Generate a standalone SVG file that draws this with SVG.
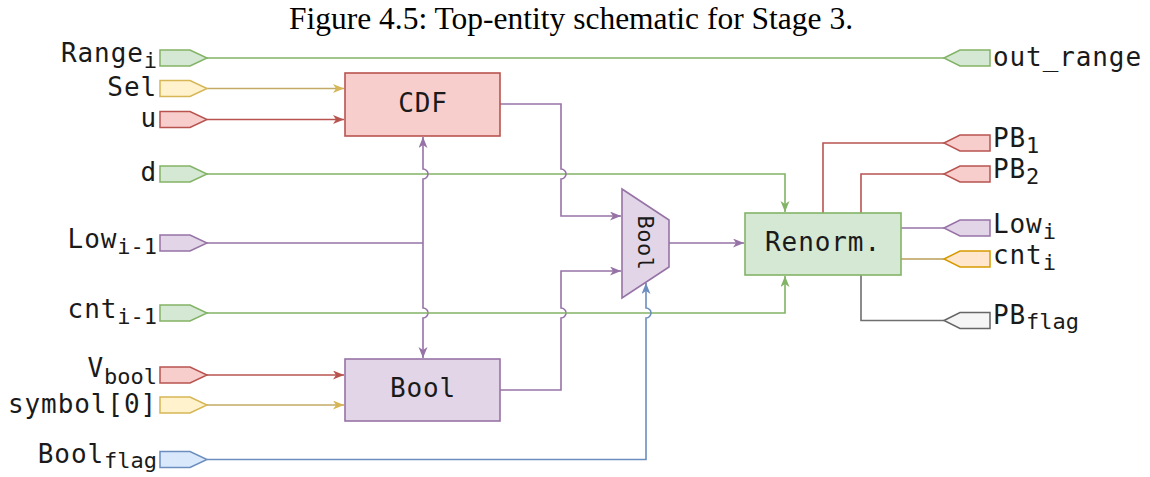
<svg xmlns="http://www.w3.org/2000/svg" width="1150" height="477" viewBox="0 0 1150 477">
  <style>
    .lbl{font-family:"DejaVu Sans Mono",monospace;font-size:26px;letter-spacing:0.9px;fill:#1a1a1a}
    .sub{font-size:22px;letter-spacing:0}
    .title{font-family:"Liberation Serif","Times New Roman",serif;font-size:31.5px;fill:#000}
    .w{fill:none;stroke-width:1.6}
    .g{stroke:#82b366}.gf{fill:#d5e8d4;stroke:#82b366}
    .y{stroke:#c2aa66}.yf{fill:#fff2cc;stroke:#d6b656}
    .r{stroke:#b85450}.rf{fill:#f8cecc;stroke:#b85450}
    .p{stroke:#9673a6}.pf{fill:#e1d5e7;stroke:#9673a6}
    .b{stroke:#6c8ebf}.bf{fill:#dae8fc;stroke:#6c8ebf}
    .o{stroke:#b99c5a}.of{fill:#ffe6cc;stroke:#d79b00}
    .k{stroke:#6f6f6f}.kf{fill:#f5f5f5;stroke:#666666}
    .port{stroke-width:1.5}
    .box{stroke-width:1.6}
  </style>
  <defs>
    <marker id="aY" markerUnits="userSpaceOnUse" markerWidth="12" markerHeight="10" refX="11" refY="4.5" orient="auto"><path d="M0,0 L11,4.5 L0,9 L3,4.5 Z" fill="#d6b656"/></marker>
    <marker id="aR" markerUnits="userSpaceOnUse" markerWidth="12" markerHeight="10" refX="11" refY="4.5" orient="auto"><path d="M0,0 L11,4.5 L0,9 L3,4.5 Z" fill="#b85450"/></marker>
    <marker id="aP" markerUnits="userSpaceOnUse" markerWidth="12" markerHeight="10" refX="11" refY="4.5" orient="auto-start-reverse"><path d="M0,0 L11,4.5 L0,9 L3,4.5 Z" fill="#9673a6"/></marker>
    <marker id="aG" markerUnits="userSpaceOnUse" markerWidth="12" markerHeight="10" refX="11" refY="4.5" orient="auto"><path d="M0,0 L11,4.5 L0,9 L3,4.5 Z" fill="#82b366"/></marker>
    <marker id="aB" markerUnits="userSpaceOnUse" markerWidth="12" markerHeight="10" refX="11" refY="4.5" orient="auto"><path d="M0,0 L11,4.5 L0,9 L3,4.5 Z" fill="#6c8ebf"/></marker>
  </defs>

  <rect width="1150" height="477" fill="#ffffff"/>
  <text class="title" x="571" y="28.5" text-anchor="middle">Figure 4.5: Top-entity schematic for Stage 3.</text>

  <!-- wiring -->
  <g id="connectors">
    <path class="w g" d="M207,58 H944"/>
    <path class="w y" d="M207,88.5 H344" marker-end="url(#aY)"/>
    <path class="w r" d="M207,119.5 H344" marker-end="url(#aR)"/>
    <path class="w g" d="M207,174 H785 V212" marker-end="url(#aG)"/>
    <path class="w p" d="M207,243 H423"/>
    <path class="w p" d="M423,137 V169 A5,5 0 0 1 423,179 V308 A5,5 0 0 1 423,318 V358" marker-start="url(#aP)" marker-end="url(#aP)"/>
    <path class="w p" d="M500,104 H561 V169 A5,5 0 0 1 561,179 V216 H621" marker-end="url(#aP)"/>
    <path class="w p" d="M500,390 H561 V318 A5,5 0 0 0 561,308 V271 H621" marker-end="url(#aP)"/>
    <path class="w p" d="M669,243 H744" marker-end="url(#aP)"/>
    <path class="w g" d="M207,313 H785 V276" marker-end="url(#aG)"/>
    <path class="w r" d="M207,375 H344" marker-end="url(#aR)"/>
    <path class="w y" d="M207,405 H344" marker-end="url(#aY)"/>
    <path class="w b" d="M207,459.5 H646 V318 A5,5 0 0 0 646,308 V283" marker-end="url(#aB)"/>
    <path class="w r" d="M823,213 V143 H944"/>
    <path class="w r" d="M861,213 V174 H944"/>
    <path class="w p" d="M901,228 H944"/>
    <path class="w o" d="M901,259 H944"/>
    <path class="w k" d="M861,275 V320.5 H944"/>
  </g>

  <!-- processing blocks -->
  <g id="cdf">
    <rect class="rf box" x="345" y="73" width="155" height="63"/>
    <text class="lbl" x="423" y="112" text-anchor="middle">CDF</text>
  </g>
  <g id="bool">
    <rect class="pf box" x="345" y="359" width="155" height="62"/>
    <text class="lbl" x="423" y="397" text-anchor="middle">Bool</text>
  </g>
  <g id="mux">
    <polygon class="pf box" points="622,189 669,220 669,267 622,298"/>
    <text class="lbl" style="font-size:22px;letter-spacing:0.5px" x="0" y="0" text-anchor="middle" transform="translate(638,243) rotate(90)">Bool</text>
  </g>
  <g id="renorm">
    <rect class="gf box" x="745" y="213" width="156" height="62"/>
    <text class="lbl" x="823" y="251" text-anchor="middle">Renorm.</text>
  </g>

  <!-- input ports -->
  <g id="in-range">
    <polygon class="gf port" points="160,50 190,50 207,58 190,66 160,66"/>
    <text class="lbl" x="157" y="62" text-anchor="end">Range<tspan class="sub" dy="6">i</tspan></text>
  </g>
  <g id="in-sel">
    <polygon class="yf port" points="160,80.5 190,80.5 207,88.5 190,96.5 160,96.5"/>
    <text class="lbl" x="157" y="96" text-anchor="end">Sel</text>
  </g>
  <g id="in-u">
    <polygon class="rf port" points="160,111.5 190,111.5 207,119.5 190,127.5 160,127.5"/>
    <text class="lbl" x="157" y="127" text-anchor="end">u</text>
  </g>
  <g id="in-d">
    <polygon class="gf port" points="160,166 190,166 207,174 190,182 160,182"/>
    <text class="lbl" x="157" y="181" text-anchor="end">d</text>
  </g>
  <g id="in-low">
    <polygon class="pf port" points="160,235 190,235 207,243 190,251 160,251"/>
    <text class="lbl" x="157" y="247.5" text-anchor="end">Low<tspan class="sub" dy="6">i-1</tspan></text>
  </g>
  <g id="in-cnt">
    <polygon class="gf port" points="160,305 190,305 207,313 190,321 160,321"/>
    <text class="lbl" x="157" y="317.5" text-anchor="end">cnt<tspan class="sub" dy="6">i-1</tspan></text>
  </g>
  <g id="in-vbool">
    <polygon class="rf port" points="160,367 190,367 207,375 190,383 160,383"/>
    <text class="lbl" x="157" y="377" text-anchor="end">V<tspan class="sub" dy="7">bool</tspan></text>
  </g>
  <g id="in-symbol">
    <polygon class="yf port" points="160,397 190,397 207,405 190,413 160,413"/>
    <text class="lbl" x="157" y="412.5" text-anchor="end">symbol[0]</text>
  </g>
  <g id="in-boolflag">
    <polygon class="bf port" points="160,451.5 190,451.5 207,459.5 190,467.5 160,467.5"/>
    <text class="lbl" x="157" y="463" text-anchor="end">Bool<tspan class="sub" dy="5">flag</tspan></text>
  </g>

  <!-- output ports -->
  <g id="out-range">
    <polygon class="gf port" points="944,58 960,50 990,50 990,66 960,66"/>
    <text class="lbl" x="993" y="65.5">out_range</text>
  </g>
  <g id="out-pb1">
    <polygon class="rf port" points="944,143 960,135 990,135 990,151 960,151"/>
    <text class="lbl" x="993" y="147">PB<tspan class="sub" dy="6">1</tspan></text>
  </g>
  <g id="out-pb2">
    <polygon class="rf port" points="944,174 960,166 990,166 990,182 960,182"/>
    <text class="lbl" x="993" y="178">PB<tspan class="sub" dy="6">2</tspan></text>
  </g>
  <g id="out-low">
    <polygon class="pf port" points="944,228 960,220 990,220 990,236 960,236"/>
    <text class="lbl" x="993" y="232.5">Low<tspan class="sub" dy="6">i</tspan></text>
  </g>
  <g id="out-cnt">
    <polygon class="of port" points="944,259 960,251 990,251 990,267 960,267"/>
    <text class="lbl" x="993" y="263.5">cnt<tspan class="sub" dy="6">i</tspan></text>
  </g>
  <g id="out-pbflag">
    <polygon class="kf port" points="944,320.5 960,312.5 990,312.5 990,328.5 960,328.5"/>
    <text class="lbl" x="993" y="324">PB<tspan class="sub" dy="5">flag</tspan></text>
  </g>
</svg>
